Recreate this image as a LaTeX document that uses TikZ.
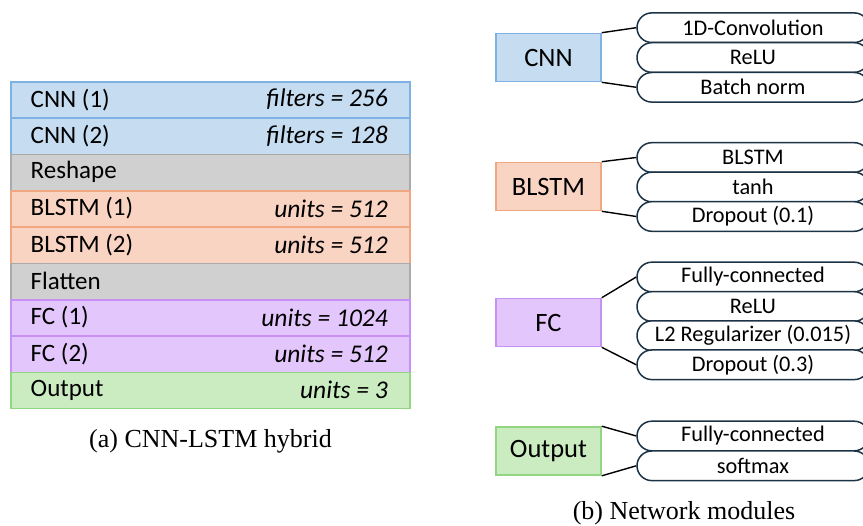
\documentclass[tikz,border=0pt]{standalone}
\usepackage{fontspec}
\setmainfont{Liberation Serif}
\newfontfamily\uifont{Carlito}
\definecolor{cnnF}{HTML}{C5DCF1}\definecolor{cnnD}{HTML}{7EB2E4}
\definecolor{grayF}{HTML}{D0D0D0}\definecolor{grayD}{HTML}{AAAAAA}
\definecolor{lstmF}{HTML}{F9D4C2}\definecolor{lstmD}{HTML}{F1A682}
\definecolor{fcF}{HTML}{E3C6FB}\definecolor{fcD}{HTML}{C690F5}
\definecolor{outF}{HTML}{CBEBC1}\definecolor{outD}{HTML}{92D683}
\definecolor{pillD}{HTML}{1C3346}
\begin{document}
\begin{tikzpicture}[x=1pt,y=-1pt,
  layer/.style={draw=#1D, fill=#1F, line width=1.6pt, minimum width=399pt, minimum height=36.3pt, inner sep=0pt, outer sep=0pt, anchor=north west},
  lt/.style={anchor=west, inner sep=0pt, font=\uifont\fontsize{25}{27}\selectfont},
  rt/.style={anchor=east, inner sep=0pt, font=\uifont\itshape\fontsize{25.5}{27}\selectfont},
  module/.style={draw=#1D, fill=#1F, line width=1.6pt, minimum width=105pt, minimum height=48pt, inner sep=0pt, font=\uifont\fontsize{26.5}{28}\selectfont},
  pill/.style={draw=pillD, fill=white, line width=1.5pt, rounded corners=14.8pt, minimum width=232pt, minimum height=29.6pt, inner sep=0pt, font=\uifont\fontsize{22.3}{24}\selectfont},
  conn/.style={draw=black, line width=1.4pt},
  captext/.style={font=\fontsize{26}{28}\selectfont, inner sep=0pt}]
\useasboundingbox (0,0) rectangle (863,526);
\clip (0,0) rectangle (863,526);
% left table
\node[layer=cnn]  (r1) at (11,82.0) {};
\node[layer=cnn]  (r2) at (11,118.3) {};
\node[layer=gray] (r3) at (11,154.6) {};
\node[layer=lstm] (r4) at (11,190.9) {};
\node[layer=lstm] (r5) at (11,227.2) {};
\node[layer=gray] (r6) at (11,263.5) {};
\node[layer=fc]   (r7) at (11,299.8) {};
\node[layer=fc]   (r8) at (11,336.1) {};
\node[layer=out]  (r9) at (11,372.4) {};
\foreach \r/\t in {r1/CNN (1), r2/CNN (2), r3/Reshape, r4/BLSTM (1), r5/BLSTM (2), r6/Flatten, r7/FC (1), r8/FC (2), r9/Output}
  \node[lt] (\r l) at ([xshift=19.5pt,yshift=0.5pt]\r.west) {\t};
\foreach \r/\t in {r1/filters = 256, r2/filters = 128, r4/units = 512, r5/units = 512, r7/units = 1024, r8/units = 512, r9/units = 3}
  \node[rt] (\r r) at ([xshift=-22pt,yshift=0.5pt]\r.east) {\t};
\node[captext] (capa) at (210.5,441) {(a) CNN-LSTM hybrid};
% modules
\node[module=cnn]  (mcnn) at (548.5,57.5) {CNN};
\node[module=lstm] (mlstm) at (548.5,186.5) {BLSTM};
\node[module=fc]   (mfc) at (548.5,322.5) {FC};
\node[module=out]  (mout) at (548.5,451) {Output};
% pills
\node[pill] (c1) at (753,27.7) {1D-Convolution};
\node[pill] (c2) at (753,57.5) {ReLU};
\node[pill] (c3) at (753,87.3) {Batch norm};
\node[pill] (l1) at (753,157.5) {BLSTM};
\node[pill] (l2) at (753,187.0) {tanh};
\node[pill] (l3) at (753,216.5) {Dropout (0.1)};
\node[pill] (f1) at (753,277.0) {Fully-connected};
\node[pill] (f2) at (753,306.5) {ReLU};
\node[pill] (f3) at (753,335.7) {L2 Regularizer (0.015)};
\node[pill] (f4) at (753,364.8) {Dropout (0.3)};
\node[pill] (o1) at (753,436.0) {Fully-connected};
\node[pill] (o2) at (753,465.8) {softmax};
% connectors
\draw[conn] (mcnn.north east) -- (c1.west);
\draw[conn] (mcnn.south east) -- (c3.west);
\draw[conn] (mlstm.north east) -- (l1.west);
\draw[conn] (mlstm.south east) -- (l3.west);
\draw[conn] (mfc.north east) -- (f1.west);
\draw[conn] (mfc.south east) -- (f4.west);
\draw[conn] (mout.north east) -- (o1.west);
\draw[conn] (mout.south east) -- (o2.west);
\node[captext] (capb) at (684,513) {(b) Network modules};
\end{tikzpicture}
\end{document}
